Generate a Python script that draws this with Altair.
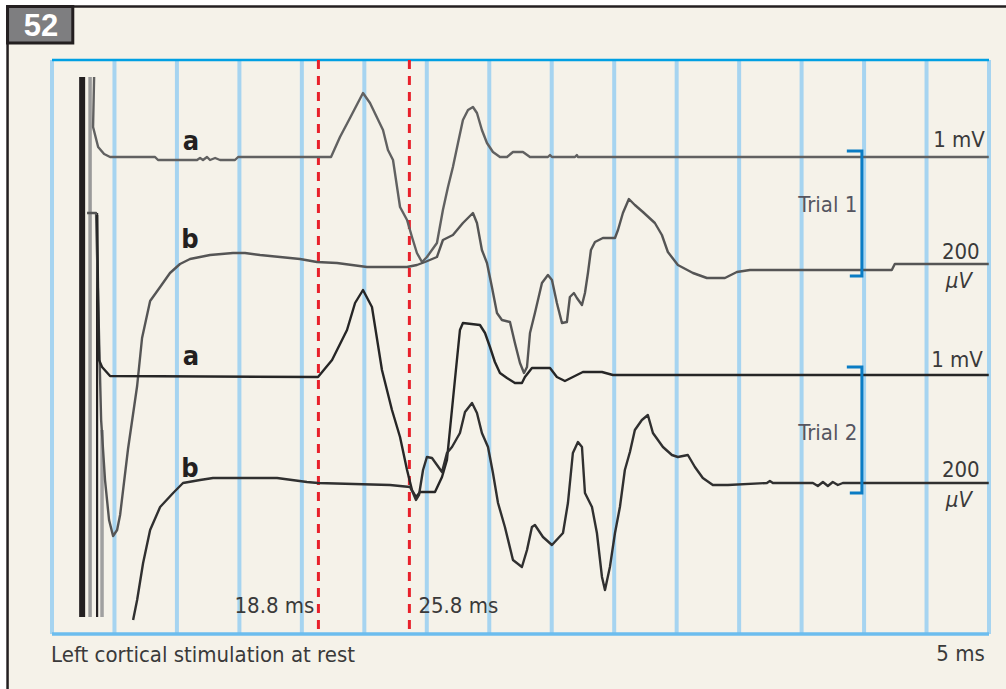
import altair as alt
import numpy as np
import pandas as pd

# ---------------------------------------------------------------------------
# Axes: time in ms, amplitude in arbitrary units (four stacked channels)
# ---------------------------------------------------------------------------
T_DOMAIN = [-1.7, 70.4]
V_DOMAIN = [0.0, 57.4]
N_DIVISIONS = 15

# Recorded traces (time ms, amplitude) -- trial 1 / trial 2, channels a and b
TRIAL1_A = [
    (1.54, 55.7), (1.46, 50.7), (1.85, 48.7), (2.31, 48.0), (2.77, 47.7),
    (6.23, 47.7), (6.46, 47.4), (9.46, 47.4), (9.69, 47.6), (9.92, 47.4),
    (10.23, 47.7), (10.46, 47.4), (10.85, 47.6), (11.23, 47.4), (12.38, 47.4),
    (12.62, 47.7), (19.77, 47.7), (20.46, 49.7), (21.23, 51.6), (22.23, 54.1),
    (22.77, 53.1), (23.77, 50.4), (24.15, 48.4), (24.54, 47.4), (25.08, 42.7),
    (25.62, 41.4), (26.0, 39.7), (26.38, 38.1), (26.77, 37.2), (27.15, 37.7),
    (27.92, 39.1), (28.38, 42.4), (28.77, 44.7), (29.15, 46.7), (29.54, 49.1),
    (29.92, 51.4), (30.31, 52.4), (30.69, 52.7), (31.0, 52.1), (31.38, 50.4),
    (31.77, 49.1), (32.23, 48.2), (32.77, 47.7), (33.31, 47.7), (33.77, 48.2),
    (34.54, 48.2), (35.08, 47.7), (36.46, 47.7), (36.62, 47.9), (36.77, 47.7),
    (38.54, 47.7), (38.69, 47.9), (38.77, 47.7), (70.38, 47.7),
]

TRIAL1_B = [
    (1.0, 42.1), (1.69, 42.1), (1.85, 33.4), (2.08, 21.4), (2.38, 15.4),
    (2.69, 11.4), (3.0, 9.8), (3.31, 10.4), (3.54, 11.9), (4.15, 18.5),
    (4.85, 24.8), (5.23, 29.6), (5.85, 33.3), (6.62, 34.7), (7.38, 36.1),
    (8.15, 37.0), (8.92, 37.5), (9.69, 37.7), (10.46, 37.9), (12.23, 38.1),
    (13.15, 38.1), (14.31, 37.9), (15.85, 37.7), (17.38, 37.5), (18.69, 37.2),
    (20.23, 37.1), (22.54, 36.7), (25.62, 36.7), (26.38, 36.9), (27.0, 37.2),
    (27.92, 37.7), (28.38, 39.4), (29.15, 39.9), (29.92, 41.1), (30.69, 42.1),
    (31.0, 41.1), (31.38, 38.4), (31.77, 37.1), (32.15, 34.7), (32.54, 32.1),
    (32.92, 31.4), (33.54, 31.2), (33.92, 29.1), (34.31, 27.1), (34.62, 26.1),
    (34.85, 26.7), (35.08, 30.1), (35.46, 32.1), (36.0, 35.1), (36.46, 35.9),
    (36.77, 35.4), (37.15, 33.1), (37.54, 31.1), (37.92, 31.2), (38.15, 33.7),
    (38.46, 34.1), (38.69, 33.6), (39.08, 32.9), (39.31, 34.1), (39.54, 36.1),
    (39.77, 38.4), (40.08, 39.2), (40.69, 39.6), (41.62, 39.6), (41.85, 40.4),
    (42.23, 42.1), (42.69, 43.5), (43.15, 42.9), (43.77, 42.2), (44.69, 41.1),
    (45.23, 39.9), (45.69, 38.2), (46.46, 36.9), (47.62, 36.1), (48.69, 35.6),
    (50.08, 35.6), (51.0, 36.2), (52.0, 36.4), (62.92, 36.4), (63.15, 37.0),
    (70.38, 37.0),
]

TRIAL2_A = [
    (1.77, 41.9), (1.85, 33.4), (1.92, 27.4), (2.15, 26.7), (2.77, 25.8),
    (18.77, 25.7), (19.85, 27.4), (21.0, 30.4), (21.62, 33.1), (22.23, 34.4),
    (22.92, 32.7), (23.69, 26.4), (24.46, 22.4), (25.08, 19.7), (25.62, 16.4),
    (26.0, 14.4), (26.31, 13.7), (26.62, 14.2), (27.77, 14.2), (28.31, 15.7),
    (28.69, 17.4), (28.92, 20.4), (29.15, 23.4), (29.38, 26.4), (29.69, 30.4),
    (29.92, 31.1), (31.23, 30.9), (31.62, 30.1), (32.0, 28.7), (32.38, 27.2),
    (32.77, 26.1), (33.31, 25.6), (33.92, 25.1), (34.46, 25.1), (34.69, 25.7),
    (35.23, 26.6), (36.62, 26.6), (37.15, 25.7), (37.77, 25.3), (38.38, 25.7),
    (39.15, 26.2), (40.62, 26.2), (41.46, 25.9), (70.38, 25.9),
]

TRIAL2_B = [
    (4.54, 1.4), (4.85, 3.4), (5.31, 7.1), (5.85, 10.4), (6.62, 12.7),
    (7.62, 14.1), (8.38, 15.1), (9.69, 15.4), (10.69, 15.6), (15.62, 15.6),
    (17.92, 15.2), (18.77, 15.1), (24.31, 14.9), (25.85, 14.7), (26.08, 14.1),
    (26.31, 13.4), (26.54, 13.9), (26.85, 16.4), (27.15, 17.7), (27.54, 17.6),
    (28.31, 16.2), (28.69, 18.1), (29.08, 18.7), (29.69, 20.1), (30.08, 22.2),
    (30.62, 23.1), (31.0, 22.1), (31.38, 20.1), (31.85, 18.7), (32.23, 16.1),
    (32.62, 13.1), (33.15, 10.7), (33.77, 7.4), (34.46, 6.7), (34.85, 8.4),
    (35.23, 10.7), (35.46, 10.9), (36.08, 9.7), (36.77, 8.9), (37.62, 10.1),
    (38.0, 13.1), (38.38, 18.1), (38.77, 19.2), (39.08, 18.7), (39.31, 14.1),
    (39.85, 12.7), (40.23, 10.1), (40.62, 5.7), (40.85, 4.4), (41.23, 6.7),
    (41.62, 10.1), (42.0, 12.7), (42.38, 16.4), (42.77, 18.2), (43.15, 20.4),
    (43.69, 21.4), (44.15, 21.9), (44.54, 20.1), (45.31, 18.7), (46.0, 17.9),
    (46.46, 17.7), (47.23, 17.9), (47.77, 16.7), (48.38, 15.6), (49.15, 14.9),
    (50.31, 14.9), (53.31, 15.1), (53.54, 15.3), (53.77, 15.1), (56.85, 15.1),
    (57.23, 14.8), (57.62, 15.2), (58.0, 14.8), (58.38, 15.2), (58.77, 14.9),
    (59.15, 15.1), (70.38, 15.1),
]

# Stimulus artifact: near-vertical deflections at the start of the sweep
ARTIFACT_T = [0.62, 1.23, 1.77, 2.15]
ARTIFACT_TOP = [55.7, 55.7, 42.1, 20.4]
ARTIFACT_BOTTOM = [1.7, 1.7, 1.7, 1.7]

# Onset latencies
LATENCIES = [18.8, 25.8]
LATENCY_LABELS = ["18.8 ms", "25.8 ms"]

# Text
CHANNEL_LETTERS = ["a", "b", "a", "b"]
GAIN_A = "1 mV"
GAIN_B_VALUE = "200"
GAIN_B_UNIT = "μV"
TRIAL_LABELS = ["Trial 1", "Trial 2"]
CAPTION = "Left cortical stimulation at rest"
TIME_SCALE = "5 ms"
PANEL_NUMBER = "52"

# ---------------------------------------------------------------------------
FONT = "Liberation Sans Narrow, Arial Narrow, DejaVu Sans Condensed, Roboto Condensed, sans-serif"
FS = 22
INK = "#3a3a3a"
BG = "#f5f2e9"

xs = alt.Scale(domain=T_DOMAIN, nice=False, zero=False)
ys = alt.Scale(domain=V_DOMAIN, nice=False, zero=False)


def X(field="t"):
    return alt.X(f"{field}:Q", scale=xs, axis=None)


def Y(field="v"):
    return alt.Y(f"{field}:Q", scale=ys, axis=None)


# Paper background and outer frame
paper = alt.Chart(pd.DataFrame({"t": [-5.12], "t2": [80], "v": [-10], "v2": [62.75]})).mark_rect(
    color=BG
).encode(x=X(), x2="t2:Q", y=Y(), y2="v2:Q")

frame_top = alt.Chart(pd.DataFrame({"t": [-5.2], "t2": [80], "v": [62.75]})).mark_rule(
    color="#231f20", strokeWidth=2.5
).encode(x=X(), x2="t2:Q", y=Y())
frame_left = alt.Chart(pd.DataFrame({"t": [-5.12], "v": [-10], "v2": [62.8]})).mark_rule(
    color="#231f20", strokeWidth=2.5
).encode(x=X(), y=Y(), y2="v2:Q")

number_box = alt.Chart(pd.DataFrame({"t": [-5.12], "t2": [-0.1], "v": [62.75], "v2": [59.1]})).mark_rect(
    color="#7e7e80", stroke="#231f20", strokeWidth=3
).encode(x=X(), x2="t2:Q", y=Y(), y2="v2:Q")
number_text = alt.Chart(pd.DataFrame({"t": [-2.54], "v": [59.8], "s": [PANEL_NUMBER]})).mark_text(
    font="Liberation Sans, Arial, sans-serif", fontSize=31, fontWeight="bold", color="white",
    align="center", baseline="alphabetic"
).encode(x=X(), y=Y(), text="s:N")

# Vertical graticule and plot border
grid_t = np.linspace(T_DOMAIN[0], T_DOMAIN[1], N_DIVISIONS + 1)
grid = alt.Chart(pd.DataFrame({"t": grid_t})).mark_rule(
    color="#a6d4f0", strokeWidth=4
).encode(x=X())
border_top = alt.Chart(pd.DataFrame({"v": [V_DOMAIN[1]]})).mark_rule(
    color="#00a0e3", strokeWidth=2.5
).encode(y=Y())
border_bottom = alt.Chart(pd.DataFrame({"v": [V_DOMAIN[0]]})).mark_rule(
    color="#6cbdee", strokeWidth=3.5
).encode(y=Y())

# Latency markers
latency_rules = alt.Chart(pd.DataFrame({"t": LATENCIES})).mark_rule(
    color="#e8212b", strokeWidth=3, strokeDash=[9, 7]
).encode(x=X())
lat_df = pd.DataFrame({"t": LATENCIES, "v": [2.1, 2.1], "s": LATENCY_LABELS})
latency_left = alt.Chart(lat_df.iloc[[0]]).mark_text(
    font=FONT, fontSize=FS, color=INK, align="right", baseline="alphabetic", dx=-4
).encode(x=X(), y=Y(), text="s:N")
latency_right = alt.Chart(lat_df.iloc[[1]]).mark_text(
    font=FONT, fontSize=FS, color=INK, align="left", baseline="alphabetic", dx=9
).encode(x=X(), y=Y(), text="s:N")

# Stimulus artifact
art_df = pd.DataFrame({
    "t": ARTIFACT_T, "v": ARTIFACT_TOP, "v2": ARTIFACT_BOTTOM,
    "c": ["#231f20", "#9a9a9a", "#231f20", "#a0a0a0"],
    "w": [6, 3.5, 2.2, 3.5],
})
artifact = alt.Chart(art_df).mark_rule().encode(
    x=X(), y=Y(), y2="v2:Q",
    color=alt.Color("c:N", scale=None),
    strokeWidth=alt.StrokeWidth("w:Q", scale=None),
)

# Traces
trace_sets = {"1a": TRIAL1_A, "1b": TRIAL1_B, "2a": TRIAL2_A, "2b": TRIAL2_B}
rows = []
for name, pts in trace_sets.items():
    for i, (t, v) in enumerate(pts):
        rows.append({"trace": name, "i": i, "t": t, "v": v})
trace_df = pd.DataFrame(rows)
traces = alt.Chart(trace_df).mark_line(strokeWidth=2.4, strokeJoin="round").encode(
    x=X(), y=Y(),
    detail="trace:N",
    order="i:Q",
    color=alt.Color("trace:N", scale=alt.Scale(
        domain=["1a", "1b", "2a", "2b"],
        range=["#616161", "#555555", "#262626", "#303030"]), legend=None),
)

# Trial brackets
br_rows = []
for k, (top, bottom) in enumerate([(48.3, 35.8), (26.7, 14.1)]):
    for i, (t, v) in enumerate([(59.46, top), (60.62, top), (60.62, bottom), (59.69, bottom)]):
        br_rows.append({"b": k, "i": i, "t": t, "v": v})
brackets = alt.Chart(pd.DataFrame(br_rows)).mark_line(
    color="#0a7cc4", strokeWidth=3, strokeJoin="miter"
).encode(x=X(), y=Y(), detail="b:N", order="i:Q")

# Channel letters
letters = alt.Chart(pd.DataFrame({
    "t": [9.0, 8.92, 9.0, 8.92], "v": [48.4, 38.6, 26.9, 15.7], "s": CHANNEL_LETTERS
})).mark_text(
    font=FONT, fontSize=27, fontWeight="bold", color="#231f20", align="center", baseline="alphabetic"
).encode(x=X(), y=Y(), text="s:N")

# Gain labels
gain_a = alt.Chart(pd.DataFrame({"t": [70.08, 69.93], "v": [48.7, 26.7], "s": [GAIN_A, GAIN_A]})).mark_text(
    font=FONT, fontSize=FS, color=INK, align="right", baseline="alphabetic"
).encode(x=X(), y=Y(), text="s:N")
gain_b = alt.Chart(pd.DataFrame({"t": [68.23, 68.23], "v": [37.5, 15.7], "s": [GAIN_B_VALUE] * 2})).mark_text(
    font=FONT, fontSize=FS, color=INK, align="center", baseline="alphabetic"
).encode(x=X(), y=Y(), text="s:N")
gain_b_unit = alt.Chart(pd.DataFrame({"t": [68.08, 68.08], "v": [34.6, 12.7], "s": [GAIN_B_UNIT] * 2})).mark_text(
    font=FONT, fontSize=FS, fontStyle="italic", color=INK, align="center", baseline="alphabetic"
).encode(x=X(), y=Y(), text="s:N")

# Trial labels
trials = alt.Chart(pd.DataFrame({"t": [58.0, 58.0], "v": [42.2, 19.4], "s": TRIAL_LABELS})).mark_text(
    font=FONT, fontSize=FS, color="#555560", align="center", baseline="alphabetic"
).encode(x=X(), y=Y(), text="s:N")

# Caption and time scale
caption = alt.Chart(pd.DataFrame({"t": [-1.77], "v": [-2.8], "s": [CAPTION]})).mark_text(
    font=FONT, fontSize=FS, color=INK, align="left", baseline="alphabetic"
).encode(x=X(), y=Y(), text="s:N")
time_scale = alt.Chart(pd.DataFrame({"t": [70.08], "v": [-2.7], "s": [TIME_SCALE]})).mark_text(
    font=FONT, fontSize=FS, color=INK, align="right", baseline="alphabetic"
).encode(x=X(), y=Y(), text="s:N")

chart = alt.layer(
    paper, frame_top, frame_left, number_box, number_text,
    grid, border_top, border_bottom,
    latency_rules, artifact, traces, brackets,
    letters, gain_a, gain_b, gain_b_unit, trials,
    latency_left, latency_right, caption, time_scale,
).properties(
    width=937,
    height=574,
    autosize=alt.AutoSizeParams(type="none"),
    padding={"left": 52, "top": 60, "right": 17, "bottom": 55},
    background="white",
).configure_view(strokeWidth=0)

chart.save("out.html", embed_options={"renderer": "svg", "actions": False})
